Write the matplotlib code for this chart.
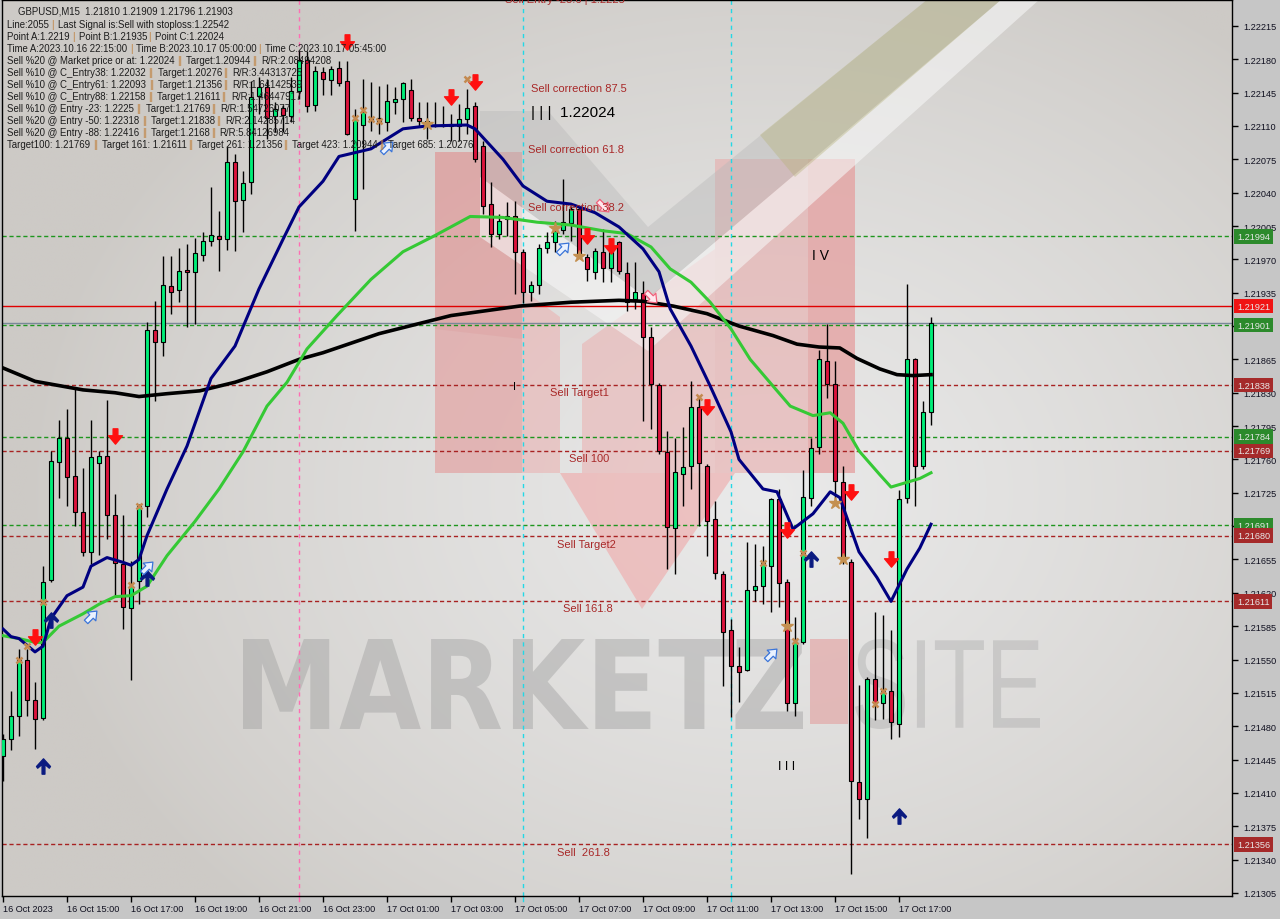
import re
import numpy as np
import matplotlib
matplotlib.use("Agg")
import matplotlib.pyplot as plt
import matplotlib.transforms as mtransforms
from matplotlib.path import Path
from matplotlib.patches import Polygon, PathPatch
from matplotlib.textpath import TextPath
from matplotlib.font_manager import FontProperties
from matplotlib.markers import MarkerStyle

W, H = 1280, 920
FONT = "Liberation Sans"

# GBPUSD M15 candles, 16 Oct 2023 13:00 -> 17 Oct 2023 18:00
opens = [1.21449, 1.21467, 1.21491, 1.21549, 1.21508, 1.21489, 1.21633, 1.21757, 1.21783, 1.21743,
         1.21705, 1.21663, 1.21756, 1.21764, 1.21702, 1.21650, 1.21604, 1.21632, 1.21711, 1.21896,
         1.21883, 1.21942, 1.21938, 1.21959, 1.21957, 1.21975, 1.21989, 1.21995, 1.21991, 1.22072,
         1.22032, 1.22051, 1.22141, 1.22151, 1.22120, 1.22129, 1.22120, 1.22147, 1.22179, 1.22132,
         1.22167, 1.22158, 1.22171, 1.22157, 1.22033, 1.22111, 1.22116, 1.22118, 1.22114, 1.22135,
         1.22138, 1.22148, 1.22118, 1.22113, 1.22110, 1.22110, 1.22110, 1.22110, 1.22117, 1.22131,
         1.22089, 1.22028, 1.21997, 1.22012, 1.22016, 1.21978, 1.21936, 1.21943, 1.21982, 1.21988,
         1.22001, 1.22008, 1.22023, 1.21972, 1.21957, 1.21978, 1.21961, 1.21988, 1.21956, 1.21928,
         1.21935, 1.21889, 1.21838, 1.21768, 1.21688, 1.21745, 1.21753, 1.21815, 1.21753, 1.21697,
         1.21640, 1.21581, 1.21543, 1.21539, 1.21623, 1.21627, 1.21648, 1.21718, 1.21631, 1.21504,
         1.21568, 1.21720, 1.21773, 1.21863, 1.21839, 1.21736, 1.21652, 1.21421, 1.21404, 1.21530,
         1.21504, 1.21517, 1.21482, 1.21719, 1.21865, 1.21753, 1.21810]
highs = [1.21472, 1.21517, 1.21561, 1.21561, 1.21526, 1.21648, 1.21769, 1.21801, 1.21813, 1.21836,
         1.21751, 1.21801, 1.21769, 1.21822, 1.21724, 1.21702, 1.21653, 1.21713, 1.21904, 1.21926,
         1.21974, 1.21974, 1.21982, 1.21986, 1.21992, 1.21999, 1.22046, 1.22021, 1.22089, 1.22081,
         1.22063, 1.22157, 1.22161, 1.22159, 1.22135, 1.22132, 1.22161, 1.22190, 1.22189, 1.22173,
         1.22172, 1.22173, 1.22178, 1.22178, 1.22128, 1.22159, 1.22156, 1.22152, 1.22154, 1.22151,
         1.22156, 1.22159, 1.22135, 1.22135, 1.22135, 1.22131, 1.22123, 1.22133, 1.22149, 1.22135,
         1.22094, 1.22051, 1.22018, 1.22030, 1.22031, 1.21981, 1.21947, 1.21986, 1.21999, 1.22010,
         1.22054, 1.22026, 1.22026, 1.21976, 1.21982, 1.22002, 1.21983, 1.21989, 1.21967, 1.21967,
         1.21947, 1.21899, 1.21840, 1.21790, 1.21782, 1.21794, 1.21842, 1.21826, 1.21755, 1.21716,
         1.21643, 1.21593, 1.21563, 1.21673, 1.21671, 1.21669, 1.21719, 1.21729, 1.21634, 1.21595,
         1.21749, 1.21782, 1.21875, 1.21902, 1.21863, 1.21753, 1.21656, 1.21523, 1.21532, 1.21600,
         1.21597, 1.21581, 1.21728, 1.21944, 1.21866, 1.21821, 1.21909]
lows = [1.21422, 1.21455, 1.21470, 1.21491, 1.21456, 1.21486, 1.21631, 1.21719, 1.21711, 1.21690,
        1.21659, 1.21650, 1.21660, 1.21677, 1.21617, 1.21582, 1.21528, 1.21608, 1.21700, 1.21821,
        1.21869, 1.21913, 1.21925, 1.21899, 1.21902, 1.21968, 1.21984, 1.21958, 1.21980, 1.21979,
        1.21999, 1.22039, 1.22123, 1.22096, 1.22104, 1.22104, 1.22114, 1.22138, 1.22125, 1.22126,
        1.22142, 1.22142, 1.22152, 1.22100, 1.22000, 1.22044, 1.22105, 1.22102, 1.22105, 1.22123,
        1.22114, 1.22115, 1.22110, 1.22096, 1.22109, 1.22109, 1.22094, 1.22094, 1.22102, 1.22072,
        1.22018, 1.21983, 1.21991, 1.21994, 1.21934, 1.21924, 1.21926, 1.21934, 1.21977, 1.21978,
        1.21997, 1.21989, 1.21980, 1.21947, 1.21949, 1.21946, 1.21946, 1.21955, 1.21916, 1.21918,
        1.21800, 1.21792, 1.21766, 1.21645, 1.21640, 1.21711, 1.21729, 1.21690, 1.21659, 1.21634,
        1.21522, 1.21490, 1.21505, 1.21538, 1.21611, 1.21608, 1.21600, 1.21605, 1.21496, 1.21491,
        1.21566, 1.21711, 1.21766, 1.21824, 1.21718, 1.21650, 1.21325, 1.21383, 1.21363, 1.21487,
        1.21488, 1.21467, 1.21469, 1.21714, 1.21711, 1.21750, 1.21796]
closes = [1.21467, 1.21491, 1.21550, 1.21507, 1.21488, 1.21631, 1.21758, 1.21782, 1.21742, 1.21705,
          1.21663, 1.21763, 1.21764, 1.21702, 1.21651, 1.21605, 1.21627, 1.21711, 1.21896, 1.21883,
          1.21943, 1.21936, 1.21958, 1.21957, 1.21977, 1.21989, 1.21996, 1.21991, 1.22072, 1.22031,
          1.22050, 1.22140, 1.22151, 1.22118, 1.22128, 1.22122, 1.22147, 1.22179, 1.22131, 1.22168,
          1.22159, 1.22170, 1.22155, 1.22102, 1.22117, 1.22125, 1.22118, 1.22114, 1.22136, 1.22138,
          1.22155, 1.22118, 1.22115, 1.22115, 1.22111, 1.22111, 1.22112, 1.22117, 1.22129, 1.22075,
          1.22026, 1.21997, 1.22010, 1.22015, 1.21978, 1.21936, 1.21943, 1.21982, 1.21988, 1.22000,
          1.22009, 1.22023, 1.21974, 1.21960, 1.21979, 1.21961, 1.21979, 1.21958, 1.21925, 1.21936,
          1.21889, 1.21839, 1.21769, 1.21689, 1.21747, 1.21752, 1.21815, 1.21756, 1.21695, 1.21641,
          1.21579, 1.21543, 1.21537, 1.21623, 1.21627, 1.21652, 1.21718, 1.21630, 1.21504, 1.21568,
          1.21721, 1.21772, 1.21865, 1.21839, 1.21737, 1.21655, 1.21422, 1.21404, 1.21530, 1.21504,
          1.21517, 1.21484, 1.21718, 1.21865, 1.21753, 1.21810, 1.21903]

# moving averages (candle index, price)
fast_idx = [0, 1, 2, 4, 5, 6, 8, 10, 11, 13, 15, 16, 17, 18, 20.5, 23, 26, 29, 32, 35, 37, 40, 42,
            46, 50, 53, 58, 59, 62.5, 65, 68, 71, 74, 77, 80, 82, 83.4, 86, 88.4, 91, 92, 95,
            96.75, 98.75, 101.25, 103.4, 104.6, 107, 109.25, 111, 113, 114.6, 116]
fast_val = [1.21582, 1.21574, 1.21572, 1.21558, 1.21564, 1.21593, 1.21617, 1.21626, 1.21648,
            1.21657, 1.21652, 1.21649, 1.21655, 1.21680, 1.21729, 1.21774, 1.21845, 1.21879,
            1.21939, 1.21991, 1.22025, 1.22052, 1.22078, 1.22086, 1.22107, 1.22110, 1.22111,
            1.22107, 1.22075, 1.22047, 1.22031, 1.22028, 1.22019, 1.22004, 1.21981, 1.21957,
            1.21918, 1.21879, 1.21837, 1.21789, 1.21760, 1.21729, 1.21726, 1.21687, 1.21703,
            1.21726, 1.21720, 1.21663, 1.21636, 1.21611, 1.21645, 1.21667, 1.21692]
mid_idx = [0, 2, 4, 5, 7, 10, 12, 14, 16, 18, 20.5, 24, 27, 30, 33, 35.5, 38, 41.75, 46, 50, 54,
           58.4, 62.5, 66.75, 71, 75, 78, 81, 83.4, 86, 88.4, 91, 93.4, 96.25, 98.4, 101.25,
           103.4, 105, 107, 109.6, 111, 113, 114.6, 116]
mid_val = [1.21575, 1.21572, 1.21568, 1.21568, 1.21585, 1.21598, 1.21608, 1.21616, 1.21617,
           1.21627, 1.21659, 1.21695, 1.21729, 1.21768, 1.21816, 1.21841, 1.21876, 1.21911,
           1.21949, 1.21978, 1.21995, 1.22015, 1.22014, 1.22009, 1.22006, 1.22000, 1.21997,
           1.21983, 1.21960, 1.21946, 1.21925, 1.21897, 1.21865, 1.21837, 1.21816, 1.21806,
           1.21809, 1.21798, 1.21769, 1.21744, 1.21731, 1.21736, 1.21740, 1.21746]
slow_idx = [0, 4, 6, 10, 14, 17, 20.5, 24.6, 29, 33, 37, 40, 47, 56, 64.6, 71, 77, 80, 83.75, 88,
            92, 96.25, 99.25, 102, 104.6, 106.75, 109.6, 111.75, 113.75, 116]
slow_val = [1.21856, 1.21842, 1.21839, 1.21833, 1.21830, 1.21826, 1.21829, 1.21832, 1.21841,
            1.21852, 1.21865, 1.21872, 1.21892, 1.21911, 1.21921, 1.21925, 1.21927, 1.21926,
            1.21921, 1.21913, 1.21900, 1.21890, 1.21881, 1.21878, 1.21877, 1.21866, 1.21855,
            1.21849, 1.21848, 1.21849]

# horizontal levels
green_levels = [1.21994, 1.21901, 1.21784, 1.21691]
red_levels = [1.21838, 1.21769, 1.21680, 1.21611, 1.21356]
stop_level = 1.21921
bid_price = 1.21903

# price scale labels ("" where a level box hides the label completely)
price_ticks = ["1.22215", "1.22180", "1.22145", "1.22110", "1.22075", "1.22040", "1.22005",
               "1.21970", "1.21935", "1.21900", "1.21865", "1.21830", "1.21795", "1.21760",
               "1.21725", "1.21690", "1.21655", "1.21620", "1.21585", "1.21550", "1.21515",
               "1.21480", "1.21445", "1.21410", "1.21375", "1.21340", "1.21305"]
hidden_ticks = ["1.21900", "1.21690"]
time_labels = ["16 Oct 2023", "16 Oct 15:00", "16 Oct 17:00", "16 Oct 19:00", "16 Oct 21:00",
               "16 Oct 23:00", "17 Oct 01:00", "17 Oct 03:00", "17 Oct 05:00", "17 Oct 07:00",
               "17 Oct 09:00", "17 Oct 11:00", "17 Oct 13:00", "17 Oct 15:00", "17 Oct 17:00"]

# signal markers (candle index, price)
sell_arrows = [(4, 1.21574), (14, 1.21785), (43, 1.22198), (56, 1.22140), (59, 1.22156),
               (73, 1.21994), (76, 1.21984), (88, 1.21815), (98, 1.21686), (106, 1.21726),
               (111, 1.21655)]
buy_arrows = [(5, 1.21438), (6, 1.21591), (18, 1.21636), (101, 1.21655), (112, 1.21386)]
hollow_up = [(11, 1.21596), (18, 1.21647), (48, 1.22088), (70, 1.21982), (96, 1.21556)]
hollow_down = [(75, 1.22026), (81, 1.21930)]
cross_marks = [(2, 1.21550), (3, 1.21564), (5, 1.21610), (16, 1.21628), (17, 1.21711),
               (44, 1.22118), (45, 1.22127), (46, 1.22117), (47, 1.22115), (58, 1.22159),
               (87, 1.21826), (95, 1.21651), (100, 1.21662), (99, 1.21569), (109, 1.21503),
               (110, 1.21517)]
star_marks = [(53, 1.22112), (69, 1.22003), (72, 1.21973), (98, 1.21585), (104, 1.21714),
              (105, 1.21655)]

fib_texts = ["Sell Entry -23.6 | 1.2225", "Sell correction 87.5", "Sell correction 61.8",
             "Sell correction 38.2", "Sell Target1", "Sell 100", "Sell Target2", "Sell 161.8",
             "Sell  261.8"]
fib_x = [70.25, 72, 71.6, 71.6, 72.1, 73.25, 72.9, 73.1, 72.6]
fib_y = [1.22243, 1.22150, 1.22086, 1.22025, 1.21831, 1.21762, 1.21671, 1.21604, 1.21348]

info_lines = [
    "Line:2055 | Last Signal is:Sell with stoploss:1.22542",
    "Point A:1.2219 | Point B:1.21935 | Point C:1.22024",
    "Time A:2023.10.16 22:15:00 | Time B:2023.10.17 05:00:00 | Time C:2023.10.17 05:45:00",
    "Sell %20 @ Market price or at: 1.22024 || Target:1.20944 || R/R:2.08494208",
    "Sell %10 @ C_Entry38: 1.22032 || Target:1.20276 || R/R:3.44313725",
    "Sell %10 @ C_Entry61: 1.22093 || Target:1.21356 || R/R:1.64142539",
    "Sell %10 @ C_Entry88: 1.22158 || Target:1.21611 || R/R:1.46447917",
    "Sell %10 @ Entry -23: 1.2225 || Target:1.21769 || R/R:1.54726077",
    "Sell %20 @ Entry -50: 1.22318 || Target:1.21838 || R/R:2.14285714",
    "Sell %20 @ Entry -88: 1.22416 || Target:1.2168 || R/R:5.84126984",
    "Target100: 1.21769 || Target 161: 1.21611 || Target 261: 1.21356 || Target 423: 1.20944 || Target 685: 1.20276",
]
header = "GBPUSD,M15  1.21810 1.21909 1.21796 1.21903"

# ---------------------------------------------------------------
fig = plt.figure(figsize=(W / 100, H / 100), dpi=100, facecolor="#C6C6C6")
ax = fig.add_axes([2 / W, 23 / H, 1230 / W, 896 / H])
px = mtransforms.Affine2D().scale(1 / W, -1 / H).translate(0, 1) + fig.transFigure

# background
gy, gx = np.mgrid[0:1:300j, 0:1:400j]
dist = np.sqrt(((gx - 0.62) / 0.6) ** 2 + ((gy - 0.55) / 0.65) ** 2)
tt = np.clip(1 - dist, 0, 1) ** 0.8
edge = np.array([205, 202, 198]) / 255
mid = np.array([234, 234, 234]) / 255
ax.imshow(edge + (mid - edge) * tt[..., None], extent=[0, 1, 0, 1], transform=ax.transAxes,
          aspect="auto", zorder=0, origin="upper", interpolation="bilinear")

# watermark (pixel coordinates)
def poly(pts, fc, alpha, z=0.5):
    ax.add_patch(Polygon(pts, closed=True, transform=px, fc=fc, ec="none", alpha=alpha, zorder=z))

poly([(435, 153), (522, 153), (522, 474), (435, 474)], "#E39B9B", 0.62)
poly([(435, 153), (522, 153), (522, 340), (435, 330)], "#DA9494", 0.25)
poly([(522, 290), (560, 318), (560, 474), (522, 474)], "#EBAFAF", 0.55)
poly([(582, 345), (715, 250), (715, 474), (582, 474)], "#EBAFAF", 0.55)
poly([(560, 474), (735, 474), (642, 610)], "#F0A8A8", 0.6)
poly([(715, 160), (855, 160), (855, 474), (715, 474)], "#E8A7A7", 0.55)
poly([(808, 160), (855, 160), (855, 474), (808, 474)], "#E39B9B", 0.45)
poly([(480, 112), (548, 112), (648, 228), (928, 0), (1002, 0), (648, 300), (480, 178)], "#B9B9B9", 0.42)
poly([(480, 178), (648, 300), (1002, 0), (1040, 0), (648, 352), (480, 238)], "#F6F6F6", 0.6)
poly([(760, 136), (928, 0), (1002, 0), (795, 178)], "#B7B37C", 0.4)

def fit_text(s, box, color, alpha, weight="bold", family="DejaVu Sans"):
    tp = TextPath((0, 0), s, size=100, prop=FontProperties(family=family, weight=weight))
    bb = tp.get_extents()
    x0, y0, x1, y1 = box
    tr = mtransforms.Affine2D().translate(-bb.x0, -bb.y1).scale(
        (x1 - x0) / bb.width, -(y1 - y0) / bb.height).translate(x0, y0)
    ax.add_patch(PathPatch(tp, transform=tr + px, fc=color, ec="none", alpha=alpha, zorder=0.6))

fit_text("MARKETZ", (243, 640, 803, 730), "#9C9C9C", 0.42)
poly([(810, 640), (848, 640), (848, 725), (810, 725)], "#E3A3A3", 0.65)
fit_text("SITE", (855, 640, 1040, 730), "#A8A8A8", 0.4, weight="normal", family=FONT)

# level lines
for p in green_levels:
    ax.axhline(p, color="#1E961E", lw=1, ls=(0, (3, 2)), zorder=2)
for p in red_levels:
    ax.axhline(p, color="#A82222", lw=1, ls=(0, (3, 2)), zorder=2)
ax.axhline(stop_level, color="#E00000", lw=1, zorder=2)
ax.axhline(bid_price, color="#7A8899", lw=1, zorder=2)
ax.axvline(37, color="#FF6EB4", lw=1, ls=(0, (3, 3)), zorder=2)
for v in (65, 91):
    ax.axvline(v, color="#22D8E6", lw=1, ls=(0, (3, 3)), zorder=2)

# candles
o, h, l, c = (np.array(a) for a in (opens, highs, lows, closes))
idx = np.arange(len(o))
up = c >= o
ax.vlines(idx, l, h, color="black", lw=1, zorder=3)
lo = np.minimum(o, c)
hgt = np.maximum(np.abs(c - o), 0.000012)
ax.bar(idx[up], hgt[up], bottom=lo[up], width=0.62, color="#00EE78", edgecolor="black",
       linewidth=0.8, zorder=3.5)
ax.bar(idx[~up], hgt[~up], bottom=lo[~up], width=0.62, color="#DC143C", edgecolor="black",
       linewidth=0.8, zorder=3.5)

# moving averages
ax.plot(slow_idx, slow_val, color="black", lw=2.6, zorder=4, solid_joinstyle="round")
ax.plot(mid_idx, mid_val, color="#35C935", lw=2.2, zorder=4.1, solid_joinstyle="round")
ax.plot(fast_idx, fast_val, color="#000080", lw=2.2, zorder=4.2, solid_joinstyle="round")

# markers
down_path = Path([(-0.17, 0.55), (0.17, 0.55), (0.17, 0.05), (0.5, 0.05), (0, -0.55),
                  (-0.5, 0.05), (-0.17, 0.05), (-0.17, 0.55)], closed=True)
up_path = Path([(-0.1, -0.55), (0.1, -0.55), (0.1, 0.15), (0.42, -0.12), (0.5, 0.0), (0, 0.55),
                (-0.5, 0.0), (-0.42, -0.12), (-0.1, 0.15), (-0.1, -0.55)], closed=True)
block_up = Path([(-0.16, -0.5), (0.16, -0.5), (0.16, 0.0), (0.4, 0.0), (0, 0.5), (-0.4, 0.0),
                 (-0.16, 0.0), (-0.16, -0.5)], closed=True)

sx, sy = zip(*sell_arrows)
ax.plot(sx, sy, ls="none", marker=down_path, ms=11, color="#FF1010", mec="#FF1010", zorder=5)
bx, by = zip(*buy_arrows)
ax.plot(bx, by, ls="none", marker=up_path, ms=11, color="#0A1A80", mec="#0A1A80", zorder=5)
hx, hy = zip(*hollow_up)
ax.plot(hx, hy, ls="none", marker=MarkerStyle(block_up, transform=mtransforms.Affine2D().rotate_deg(-45)),
        ms=11, mfc="#EAF2FF", mec="#3A74D8", mew=0.9, zorder=5)
hx, hy = zip(*hollow_down)
ax.plot(hx, hy, ls="none", marker=MarkerStyle(block_up, transform=mtransforms.Affine2D().rotate_deg(-135)),
        ms=11, mfc="#FFE8EE", mec="#F0607A", mew=0.9, zorder=5)
cx, cy = zip(*cross_marks)
ax.plot(cx, cy, ls="none", marker="x", ms=5, mew=1.8, color="#C48A50", zorder=5)
tx, ty = zip(*star_marks)
ax.plot(tx, ty, ls="none", marker="*", ms=9, color="#C49050", zorder=5)

# fibonacci / wave labels
for s, x, y in zip(fib_texts, fib_x, fib_y):
    ax.text(x, y, s, ha="center", va="center", fontsize=8, family=FONT, color="#A82828",
            zorder=5, clip_on=True)
ax.text(66, 1.22125, "| | |  1.22024", ha="left", va="center", fontsize=11, family=FONT,
        color="black", zorder=5)
ax.text(102.2, 1.21975, "I V", ha="center", va="center", fontsize=10, family=FONT, color="black", zorder=5)
ax.text(64, 1.21837, "I", ha="center", va="center", fontsize=8, family=FONT, color="black", zorder=5)
ax.text(98.0, 1.21438, "I I I", ha="center", va="center", fontsize=9, family=FONT, color="black", zorder=5)

# axes styling
ax.set_xlim(-0.125, 153.625)
ax.set_ylim(1.213018, 1.222422)
for sp in ax.spines.values():
    sp.set_color("black")
    sp.set_linewidth(1)
ax.yaxis.tick_right()
ax.set_yticks([float(t) for t in price_ticks])
ax.set_yticklabels(["" if t in hidden_ticks else t for t in price_ticks])
ax.set_xticks(np.arange(0, 8 * len(time_labels), 8))
ax.set_xticklabels(time_labels, ha="left")
ax.tick_params(axis="both", labelsize=6.6, length=4, width=1, color="black", pad=2,
               labelcolor="#101020", labelfontfamily=FONT)
ax.tick_params(axis="y", pad=4)
blend_x = mtransforms.blended_transform_factory(ax.transData, ax.transAxes)
for v, col in ((37, "#FF6EB4"), (65, "#22D8E6"), (91, "#22D8E6")):
    ax.plot([v, v], [-0.006, 0], transform=blend_x, color=col, lw=1, clip_on=False)

# level price boxes on the right axis
blend_y = mtransforms.blended_transform_factory(ax.transAxes, ax.transData)
boxes = [(p, "#2C8A2C") for p in green_levels] + [(p, "#A52A2A") for p in red_levels] + \
        [(stop_level, "#F01414")]
for p, col in boxes:
    ax.text(1 + 5 / 1230, p, f"{p:.5f}", transform=blend_y, ha="left", va="center",
            fontsize=6.6, family=FONT, color="#E8E8E8", clip_on=False, zorder=6,
            bbox=dict(boxstyle="square,pad=0.3", fc=col, ec="none"))

# top-left info block with coloured separators
r = fig.canvas.get_renderer()
prop = FontProperties(family=FONT, size=6.9)

def tw(s):
    return r.get_text_width_height_descent(s, prop, ismath=False)[0]

def seg_line(x, y, line, color="#1C1C1C", sep="#C0803C"):
    prefix = ""
    for part in re.split(r"(\|+)", line):
        body = part.lstrip()
        if body:
            pre = prefix + part[: len(part) - len(body)]
            off = tw(pre + "x") - tw("x") if pre else 0
            if not part.startswith("|") and pre:
                off += 1.5
            fig.text((x + off) / W, 1 - y / H, body, fontproperties=prop, va="baseline",
                     ha="left", color=sep if part.startswith("|") else color, zorder=7)
        prefix += part

seg_line(18, 14, header)
for k, line in enumerate(info_lines):
    seg_line(7, 27.5 + 12 * k, line)

fig.savefig("out.png", dpi=100, facecolor=fig.get_facecolor())
